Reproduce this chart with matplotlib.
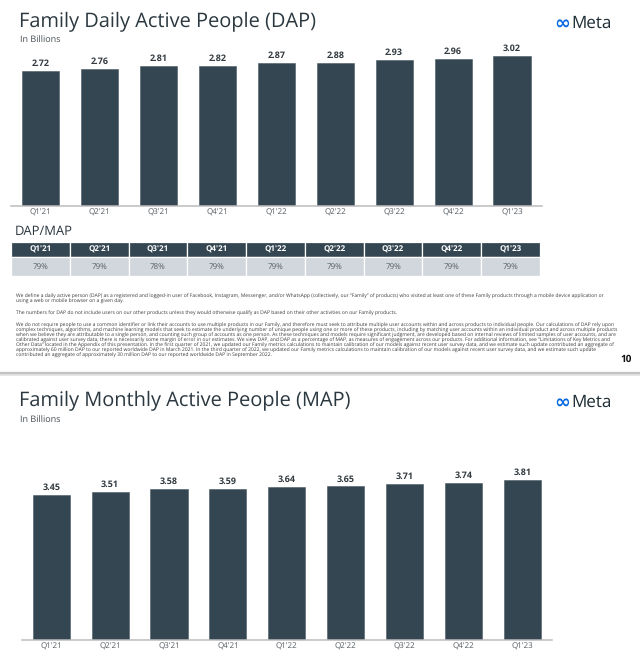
import matplotlib
matplotlib.use("Agg")
import matplotlib.pyplot as plt
from matplotlib.lines import Line2D

# ---------------- data ----------------
quarters = ["Q1'21", "Q2'21", "Q3'21", "Q4'21", "Q1'22", "Q2'22", "Q3'22", "Q4'22", "Q1'23"]
dap_values = [2.72, 2.76, 2.81, 2.82, 2.87, 2.88, 2.93, 2.96, 3.02]
map_values = [3.45, 3.51, 3.58, 3.59, 3.64, 3.65, 3.71, 3.74, 3.81]
dap_map_ratio = ["79%", "79%", "78%", "79%", "79%", "79%", "79%", "79%", "79%"]

footnote_lines = [
    ("We define a daily active person (DAP) as a registered and logged-in user of Facebook, Instagram, Messenger, and/or WhatsApp (collectively, our \u201cFamily\u201d of products) who visited at least one of these Family products through a mobile device application or", True),
    ("using a web or mobile browser on a given day.", False),
    ("The numbers for DAP do not include users on our other products unless they would otherwise qualify as DAP based on their other activities on our Family products.", False),
    ("We do not require people to use a common identifier or link their accounts to use multiple products in our Family, and therefore must seek to attribute multiple user accounts within and across products to individual people. Our calculations of DAP rely upon", True),
    ("complex techniques, algorithms, and machine learning models that seek to estimate the underlying number of unique people using one or more of these products, including by matching user accounts within an individual product and across multiple products", True),
    ("when we believe they are attributable to a single person, and counting such group of accounts as one person. As these techniques and models require significant judgment, are developed based on internal reviews of limited samples of user accounts, and are", True),
    ("calibrated against user survey data, there is necessarily some margin of error in our estimates. We view DAP, and DAP as a percentage of MAP, as measures of engagement across our products. For additional information, see \u201cLimitations of Key Metrics and", True),
    ("Other Data\u201d located in the Appendix of this presentation. In the first quarter of 2021, we updated our Family metrics calculations to maintain calibration of our models against recent user survey data, and we estimate such update contributed an aggregate of", True),
    ("approximately 60 million DAP to our reported worldwide DAP in March 2021. In the third quarter of 2022, we updated our Family metrics calculations to maintain calibration of our models against recent user survey data, and we estimate such update", True),
    ("contributed an aggregate of approximately 30 million DAP to our reported worldwide DAP in September 2022.", False),
]
footnote_y = [296, 302, 313, 325.5, 330.5, 335.5, 340.5, 345.5, 350.5, 355.5]

# ---------------- style ----------------
FONT = ["Open Sans", "DejaVu Sans"]
plt.rcParams["font.family"] = FONT
plt.rcParams["text.hinting"] = "no_hinting"
plt.rcParams["text.hinting_factor"] = 1
BAR = "#344651"
TITLE = "#2b3840"
GRAY = "#555d63"
LIGHT = "#d1d7dc"
AXIS = "#bcbcbc"
BLUE = "#0668E1"

W, H = 640, 662
fig = plt.figure(figsize=(W / 100, H / 100), dpi=100)
fig.patch.set_facecolor("white")


def fx(px):
    return px / W


def fy(py):
    return 1 - py / H


def bar_panel(rect_px, values, ymax):
    l, t, r, b = rect_px
    ax = fig.add_axes([fx(l), fy(b), (r - l) / W, (b - t) / H])
    x = list(range(len(values)))
    bars = ax.bar(x, values, width=0.63, color=BAR, edgecolor="#4a5a64", linewidth=0.4)
    ax.bar_label(bars, labels=[f"{v:.2f}" for v in values], padding=2.0,
                 fontsize=6.4, fontweight="bold", color="#333b40")
    ax.set_xlim(-0.5, 8.5)
    ax.set_ylim(0, ymax)
    ax.set_xticks(x)
    ax.set_xticklabels(quarters, fontsize=5.9, color=GRAY)
    ax.tick_params(axis="x", length=0, pad=2.0)
    ax.set_yticks([])
    for s in ["top", "left", "right"]:
        ax.spines[s].set_visible(False)
    ax.spines["bottom"].set_color(AXIS)
    ax.spines["bottom"].set_linewidth(1.1)
    ax.set_facecolor("none")
    return ax


def meta_logo(ycen):
    fig.text(fx(554), fy(ycen), "\u221e", fontsize=14, fontweight="bold", color=BLUE,
             family=["DejaVu Sans"], va="center", ha="left")
    fig.text(fx(571.5), fy(ycen), "Meta", fontsize=12, color="#1c2b33", va="center", ha="left")


# ---------------- DAP slide ----------------
fig.text(fx(19), fy(21.5), "Family Daily Active People (DAP)", fontsize=14.6, color=TITLE, va="center")
fig.text(fx(20), fy(40), "In Billions", fontsize=6.6, color="#444c52", va="center")
meta_logo(23)

bar_panel((11, 40, 541.5, 206), dap_values, 166 / 49.8)

fig.text(fx(14.5), fy(231.5), "DAP/MAP", fontsize=9.6, color="#2b3840", va="center")

ax_t = fig.add_axes([fx(11), fy(275.5), 529 / W, 34 / H])
ax_t.axis("off")
tbl = ax_t.table(cellText=[dap_map_ratio], colLabels=quarters, cellLoc="center", bbox=[0, 0, 1, 1])
tbl.auto_set_font_size(False)
for (r, c), cell in tbl.get_celld().items():
    cell.set_edgecolor("white")
    cell.set_linewidth(0.9)
    if r == 0:
        cell.set_facecolor(BAR)
        cell.get_text().set_color("white")
        cell.get_text().set_fontweight("bold")
        cell.get_text().set_fontsize(6.0)
        cell.set_height(0.47)
    else:
        cell.set_facecolor(LIGHT)
        cell.get_text().set_color(GRAY)
        cell.get_text().set_fontsize(6.0)
        cell.set_height(0.53)

# footnotes (justified to a common width: measured at a large size, scaled down)
fig.canvas.draw()
renderer = fig.canvas.get_renderer()
target_w = 610 - 16
BASE = 3.3
for (line, full), yy in zip(footnote_lines, footnote_y):
    size = BASE
    if full:
        probe = fig.text(0, 0, line, fontsize=20)
        w20 = probe.get_window_extent(renderer).width
        probe.remove()
        size = 20 * target_w / w20
    fig.text(fx(16), fy(yy), line, fontsize=size, color="#3a3a3a", va="center", ha="left")

fig.text(fx(626), fy(359), "10", fontsize=7.5, fontweight="bold", color="#111111", va="center", ha="center")

# slide separator
fig.add_artist(Line2D([0, 1], [fy(373), fy(373)], color="#c4c4c4", linewidth=2.4, transform=fig.transFigure))
fig.add_artist(Line2D([0, 1], [fy(375.3), fy(375.3)], color="#e4e4e4", linewidth=1.2, transform=fig.transFigure))

# ---------------- MAP slide ----------------
fig.text(fx(19), fy(400.5), "Family Monthly Active People (MAP)", fontsize=14.6, color=TITLE, va="center")
fig.text(fx(20), fy(420), "In Billions", fontsize=6.6, color="#444c52", va="center")
meta_logo(402.5)

bar_panel((21.7, 460, 552, 640), map_values, 180 / 42.1)

fig.savefig("out.png", dpi=100, facecolor="white")
